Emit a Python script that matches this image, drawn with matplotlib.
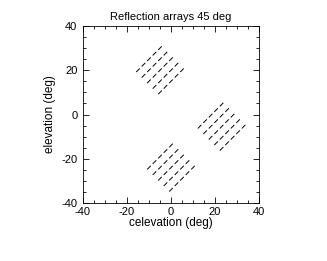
import matplotlib
matplotlib.use('Agg')
import matplotlib.pyplot as plt
from matplotlib.ticker import MultipleLocator

plt.rcParams['font.family'] = ['Liberation Sans', 'DejaVu Sans']
plt.rcParams['axes.unicode_minus'] = False

# dash centres (deg), one list per array
# upper-left array
a1_x = [-5.0,
        -7.5, -2.5,
        -10.0, -5.0, 0.0,
        -12.5, -7.5, -2.5, 2.5,
        -15.0, -10.0, -5.0, 0.0, 5.0,
        -12.5, -7.5, -2.5, 2.5,
        -10.0, -5.0, 0.0,
        -7.5, -2.5,
        -5.0]
a1_y = [30.0,
        27.5, 27.5,
        25.0, 25.0, 25.0,
        22.5, 22.5, 22.5, 22.5,
        20.0, 20.0, 20.0, 20.0, 20.0,
        17.5, 17.5, 17.5, 17.5,
        15.0, 15.0, 15.0,
        12.5, 12.5,
        10.0]
# right array
a2_x = [23.0,
        20.5, 25.5,
        18.0, 23.0, 28.0,
        15.5, 20.5, 25.5, 30.5,
        13.0, 18.0, 23.0, 28.0, 33.0,
        15.5, 20.5, 25.5, 30.5,
        18.0, 23.0, 28.0,
        20.5, 25.5,
        23.0]
a2_y = [4.5,
        2.0, 2.0,
        -0.5, -0.5, -0.5,
        -3.0, -3.0, -3.0, -3.0,
        -5.5, -5.5, -5.5, -5.5, -5.5,
        -8.0, -8.0, -8.0, -8.0,
        -10.5, -10.5, -10.5,
        -13.0, -13.0,
        -15.5]
# lower array
a3_x = [0.0,
        -2.5, 2.5,
        -5.0, 0.0, 5.0,
        -7.5, -2.5, 2.5, 7.5,
        -10.0, -5.0, 0.0, 5.0, 10.0,
        -7.5, -2.5, 2.5, 7.5,
        -5.0, 0.0, 5.0,
        -2.5, 2.5,
        0.0]
a3_y = [-14.0,
        -16.5, -16.5,
        -19.0, -19.0, -19.0,
        -21.5, -21.5, -21.5, -21.5,
        -24.0, -24.0, -24.0, -24.0, -24.0,
        -26.5, -26.5, -26.5, -26.5,
        -29.0, -29.0, -29.0,
        -31.5, -31.5,
        -34.0]

half = 0.65  # half length of each 45 deg dash

fig = plt.figure(figsize=(3.27, 2.61), dpi=100)
ax = fig.add_axes([0.2538, 0.2222, 0.5382, 0.6782])

for xs, ys in [(a1_x, a1_y), (a2_x, a2_y), (a3_x, a3_y)]:
    for x, y in zip(xs, ys):
        ax.plot([x - half, x + half], [y - half, y + half], color='black', lw=0.7)

ax.set_xlim(-40, 40)
ax.set_ylim(-40, 40)
ax.xaxis.set_major_locator(MultipleLocator(20))
ax.yaxis.set_major_locator(MultipleLocator(20))
ax.xaxis.set_minor_locator(MultipleLocator(5))
ax.yaxis.set_minor_locator(MultipleLocator(5))
ax.tick_params(which='both', direction='in', top=True, right=True, labelsize=8, width=0.6)
ax.tick_params(axis='x', pad=3)
ax.tick_params(axis='y', pad=4)
ax.tick_params(which='major', length=4)
ax.tick_params(which='minor', length=2)
for s in ax.spines.values():
    s.set_linewidth(0.6)

ax.set_title('Reflection arrays 45 deg', fontsize=8, pad=4)
ax.set_xlabel('celevation (deg)', fontsize=8.5, labelpad=0)
ax.set_ylabel('elevation (deg)', fontsize=8.5, labelpad=4)

fig.savefig('out.png', dpi=100)
